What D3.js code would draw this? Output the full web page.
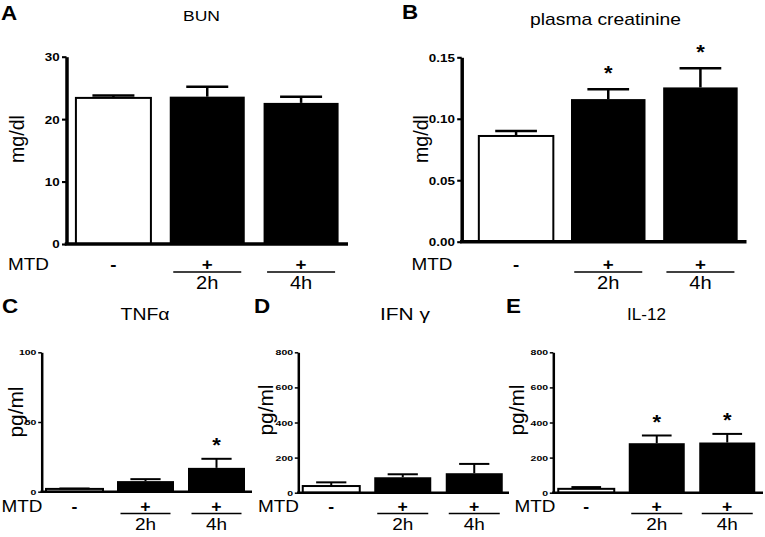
<!DOCTYPE html>
<html><head><meta charset="utf-8">
<script src="https://cdn.jsdelivr.net/npm/d3@7"></script>
<style>
html,body{margin:0;padding:0;background:#fff;}
svg{display:block;font-family:"Liberation Sans",Arial,Helvetica,sans-serif;}
</style></head>
<body><svg id="chart" width="765" height="537"></svg>
<script>
// ---- data ----
const groups = ["-", "+", "+"];
const times = ["", "2h", "4h"];
const bunMean = [23.4, 23.6, 22.6];
const bunSem = [0.4, 1.6, 1.0];
const bunSig = [false, false, false];
const bunTicks = [0, 10, 20, 30];
const creatMean = [0.086, 0.116, 0.1255];
const creatSem = [0.004, 0.008, 0.0155];
const creatSig = [false, true, true];
const creatTicks = [0, 0.05, 0.10, 0.15];
const tnfMean = [2, 7.6, 17.1];
const tnfSem = [0.3, 1.4, 6.5];
const tnfSig = [false, false, true];
const tnfTicks = [0, 50, 100];
const ifnMean = [38, 88, 111];
const ifnSem = [21, 17, 53];
const ifnSig = [false, false, false];
const ifnTicks = [0, 200, 400, 600, 800];
const il12Mean = [22, 282, 286];
const il12Sem = [10, 44, 49];
const il12Sig = [false, true, true];
const il12Ticks = [0, 200, 400, 600, 800];

const svg = d3.select("#chart");

// text helper: optional target width w -> horizontal scale fitted to it
function txt(parent, x, y, s, o) {
  const g = parent.append("g");
  const t = g.append("text").attr("text-anchor", o.anchor || "middle")
    .style("font-size", o.size + "px").style("font-weight", o.weight || "normal")
    .attr("fill", "#000").text(s);
  let sx = o.sx || 1;
  if (o.w) { const L = t.node().getComputedTextLength(); if (L > 0) sx = o.w / L; }
  g.attr("transform", `translate(${x},${y})${o.rot ? ` rotate(${o.rot})` : ""} scale(${sx},1)`);
  return g;
}

const styleTop = {lw: 3.5, elw: 2.5, tickLen: 4.5, tickPad: 0.5, tickSize: 11, tickSx: 1.22,
  mtdY: 269.5, lineY: 272, timeY: 288.5, lblSize: 17, capFrac: 0.56, starGap: 9, ylabSize: 20};
const styleBot = {lw: 2.5, elw: 2, tickLen: 3.5, tickPad: 0.5, tickSize: 7, tickSx: 1.5,
  mtdY: 511.5, lineY: 513.5, timeY: 529.5, lblSize: 16, capFrac: 0.53, starGap: 6.5, ylabSize: 20};

const panels = [
  {letter: "A", lx: 1, ly: 19.5, title: "BUN", tx: 201.5, ty: 20.5, tsize: 15.5, tw: 37,
   mean: bunMean, sem: bunSem, sig: bunSig, ticks: bunTicks, fmt: d3.format("d"), dom: [0, 30],
   y0: 244, y1: 56.7, ax: 66.5, xr: [66.5, 348], aEnd: 348, barW: 75, lineHalf: 34,
   ylab: "mg/dl", ylw: 48, ylx: 24, yly: 139, mtdX: 8, st: styleTop},
  {letter: "B", lx: 402, ly: 19, title: "plasma creatinine", tx: 605.5, ty: 24.5, tsize: 16, tw: 151,
   mean: creatMean, sem: creatSem, sig: creatSig, ticks: creatTicks, fmt: d3.format(".2f"), dom: [0, 0.15],
   y0: 241.7, y1: 57.3, ax: 461.7, xr: [470, 746.5], aEnd: 746.5, barW: 74.5, lineHalf: 34,
   ylab: "mg/dl", ylw: 48, ylx: 428, yly: 139, mtdX: 411.5, st: styleTop},
  {letter: "C", lx: 2, ly: 313, title: "TNFα", tx: 145, ty: 319.5, tsize: 16, tw: 49,
   mean: tnfMean, sem: tnfSem, sig: tnfSig, ticks: tnfTicks, fmt: d3.format("d"), dom: [0, 100],
   y0: 491.7, y1: 352.3, ax: 41.7, xr: [39, 252], aEnd: 252, barW: 57, lineHalf: 25,
   ylab: "pg/ml", ylw: 51, ylx: 23, yly: 412, mtdX: 1.5, st: styleBot},
  {letter: "D", lx: 254, ly: 313, title: "IFN γ", tx: 405, ty: 319.5, tsize: 16, tw: 50,
   mean: ifnMean, sem: ifnSem, sig: ifnSig, ticks: ifnTicks, fmt: d3.format("d"), dom: [0, 800],
   y0: 492.7, y1: 352.3, ax: 298.3, xr: [295.5, 510], aEnd: 509, barW: 57, lineHalf: 25.5,
   ylab: "pg/ml", ylw: 51, ylx: 273, yly: 410, mtdX: 258, st: styleBot},
  {letter: "E", lx: 506, ly: 313, title: "IL-12", tx: 646.5, ty: 319.5, tsize: 16, tw: 39,
   mean: il12Mean, sem: il12Sem, sig: il12Sig, ticks: il12Ticks, fmt: d3.format("d"), dom: [0, 800],
   y0: 492.7, y1: 352.3, ax: 553.3, xr: [551, 762.5], aEnd: 763, barW: 56, lineHalf: 25.5,
   ylab: "pg/ml", ylw: 51, ylx: 524, yly: 410, mtdX: 514.5, st: styleBot}
];

panels.forEach(p => {
  const s = p.st;
  const g = svg.append("g");
  const y = d3.scaleLinear().domain(p.dom).range([p.y0, p.y1]);
  const x = d3.scalePoint().domain([0, 1, 2]).range(p.xr).padding(0.5);

  txt(g, p.lx, p.ly, p.letter, {size: 20, weight: "bold", anchor: "start", sx: 1.12});
  txt(g, p.tx, p.ty, p.title, {size: p.tsize, w: p.tw});

  g.selectAll("rect.bar").data(p.mean).join("rect")
    .attr("x", (d, i) => x(i) - p.barW / 2)
    .attr("width", p.barW)
    .attr("y", d => y(d))
    .attr("height", d => y(0) - y(d))
    .attr("fill", (d, i) => i === 0 ? "#fff" : "#000")
    .attr("stroke", "#000").attr("stroke-width", (d, i) => i === 0 ? 2 : 0);

  const capW = p.barW * s.capFrac;
  p.mean.forEach((m, i) => {
    const yt = y(m + p.sem[i]);
    g.append("line").attr("x1", x(i)).attr("x2", x(i)).attr("y1", y(m)).attr("y2", yt)
      .attr("stroke", "#000").attr("stroke-width", s.elw);
    g.append("line").attr("x1", x(i) - capW / 2).attr("x2", x(i) + capW / 2).attr("y1", yt).attr("y2", yt)
      .attr("stroke", "#000").attr("stroke-width", s.elw);
    if (p.sig[i]) txt(g, x(i), yt - s.starGap, "*", {size: 20, weight: "bold", sx: 1.1});
  });

  const axis = d3.axisLeft(y).tickValues(p.ticks).tickFormat(p.fmt)
    .tickSize(s.tickLen).tickSizeOuter(0);
  const ag = g.append("g").attr("transform", `translate(${p.ax},0)`).call(axis);
  ag.select(".domain").attr("stroke", "#000").attr("stroke-width", s.lw);
  ag.selectAll(".tick line").attr("stroke", "#000").attr("stroke-width", s.lw * 0.6);
  ag.selectAll(".tick text")
    .attr("x", null).attr("dy", "0.36em")
    .attr("transform", `translate(${-(s.tickLen + s.tickPad + s.lw / 2)},0) scale(${s.tickSx},1)`)
    .attr("fill", "#000")
    .style("font-size", s.tickSize + "px").style("font-weight", "bold")
    .style("font-family", "'Liberation Sans',Arial,sans-serif");

  g.append("line").attr("x1", p.ax - s.lw / 2).attr("x2", p.aEnd).attr("y1", y(0)).attr("y2", y(0))
    .attr("stroke", "#000").attr("stroke-width", s.lw);

  txt(g, p.ylx, p.yly, p.ylab, {size: s.ylabSize, rot: -90, w: p.ylw});

  txt(g, p.mtdX, s.mtdY, "MTD", {size: s.lblSize, anchor: "start", w: 41});
  groups.forEach((lab, i) => {
    txt(g, x(i), s.mtdY, lab, {size: s.lblSize, weight: "bold", sx: 1.1});
    if (times[i]) {
      g.append("line").attr("x1", x(i) - p.lineHalf).attr("x2", x(i) + p.lineHalf)
        .attr("y1", s.lineY).attr("y2", s.lineY).attr("stroke", "#000").attr("stroke-width", 1.5);
      txt(g, x(i), s.timeY, times[i], {size: s.lblSize + 0.5, sx: 1.15});
    }
  });
});
</script></body></html>
